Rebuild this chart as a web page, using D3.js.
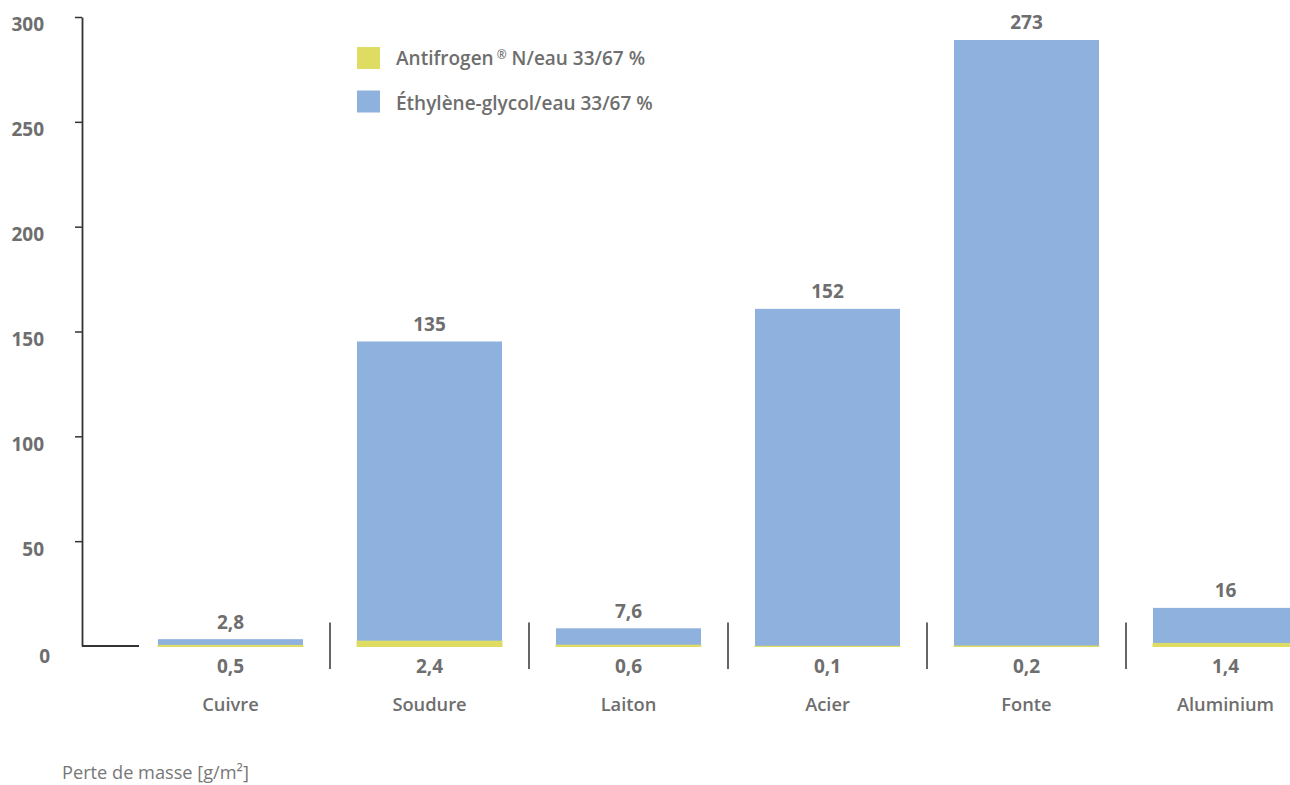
<!DOCTYPE html>
<html><head><meta charset="utf-8">
<script src="https://cdn.jsdelivr.net/npm/d3@7"></script>
<style>body{margin:0;background:#fff}svg{display:block}</style>
</head><body><svg id="c" width="1290" height="785"></svg>
<script>
// ---- data ----
const categories = ["Cuivre", "Soudure", "Laiton", "Acier", "Fonte", "Aluminium"];
const antifrogenValues = [0.5, 2.4, 0.6, 0.1, 0.2, 1.4];
const glycolValues = [2.8, 135, 7.6, 152, 273, 16];
const seriesNames = ["Antifrogen", "Éthylène-glycol/eau 33/67 %"];
const antifrogenSuffix = " N/eau 33/67 %";
const yTickValues = [0, 50, 100, 150, 200, 250, 300];
const axisTitle = "Perte de masse [g/m²]";

// ---- style ----
const textColor = "#6e6e6e";
const lineColor = "#333";
const yellow = "#dfdc63";
const blue = "#8fb1de";
const font = "'Open Sans', sans-serif";

const svg = d3.select("#c");

const x = d3.scaleBand().domain(categories).range([131, 1325])
  .paddingInner(0.2714).paddingOuter(0.1357);
// axis scale as printed on the reference
const yAxisScale = d3.scaleLinear().domain([0, 300]).range([646, 17]);
// bars in the reference are drawn on a slightly taller scale than the printed axis
const yBar = d3.scaleLinear().domain([0, 300]).range([646.5, -19.5]);

const fmt = v => String(v).replace(".", ",");

// y axis
const axisG = svg.append("g").attr("transform", "translate(82,0)")
  .call(d3.axisLeft(yAxisScale).tickValues(yTickValues).tickSize(7).tickSizeOuter(0).tickPadding(31));
axisG.select(".domain").attr("stroke", lineColor).attr("stroke-width", 1.8);
axisG.selectAll(".tick line").attr("stroke", lineColor).attr("stroke-width", 1.5);
axisG.selectAll(".tick text").attr("fill", textColor).attr("font-family", font)
  .attr("font-weight", 700).attr("font-size", 19).attr("dy", "0.73em");
axisG.selectAll(".tick").filter(d => d === 0).each(function () {
  d3.select(this).select("line").remove();
  d3.select(this).select("text").attr("x", -35 + 3).attr("dy", "0.88em");
});

// baseline stub
svg.append("line").attr("x1", 82).attr("x2", x.range()[0] + 8)
  .attr("y1", yAxisScale(0)).attr("y2", yAxisScale(0))
  .attr("stroke", lineColor).attr("stroke-width", 1.8);

// separators between categories
const step = x.step();
categories.slice(1).forEach(c => {
  const sx = x(c) - step * x.paddingInner() / 2;
  svg.append("line").attr("x1", sx).attr("x2", sx).attr("y1", 622.5).attr("y2", 669)
    .attr("stroke", lineColor).attr("stroke-width", 1.5);
});

// bars (stacked: antifrogen at bottom, glycol on top)
const data = categories.map((c, i) => ({ c, a: antifrogenValues[i], g: glycolValues[i] }));
const bars = svg.append("g");
bars.selectAll("rect.g").data(data).join("rect").attr("class", "g")
  .attr("x", d => x(d.c)).attr("width", x.bandwidth())
  .attr("y", d => yBar(d.a + d.g)).attr("height", d => yBar(d.a) - yBar(d.a + d.g))
  .attr("fill", blue);
bars.selectAll("rect.a").data(data).join("rect").attr("class", "a")
  .attr("x", d => x(d.c)).attr("width", x.bandwidth())
  .attr("y", d => yBar(d.a)).attr("height", d => yBar(0) - yBar(d.a))
  .attr("fill", yellow).attr("stroke", yellow).attr("stroke-width", 1);

// value labels
const lab = svg.append("g").attr("font-family", font).attr("font-weight", 700)
  .attr("font-size", 19).attr("fill", textColor).attr("text-anchor", "middle");
lab.selectAll("text.top").data(data).join("text").attr("class", "top")
  .attr("x", d => x(d.c) + x.bandwidth() / 2).attr("y", d => yBar(d.a + d.g) - 10.5)
  .text(d => fmt(d.g));
lab.selectAll("text.bot").data(data).join("text").attr("class", "bot")
  .attr("x", d => x(d.c) + x.bandwidth() / 2).attr("y", 673)
  .text(d => fmt(d.a));
lab.selectAll("text.cat").data(data).join("text").attr("class", "cat")
  .attr("x", d => x(d.c) + x.bandwidth() / 2).attr("y", 710.5)
  .attr("font-size", 18.3).attr("font-weight", 600)
  .text(d => d.c);

// legend
const leg = svg.append("g").attr("font-family", font).attr("font-weight", 600)
  .attr("font-size", 19).attr("fill", textColor);
leg.append("rect").attr("x", 357).attr("y", 47).attr("width", 23).attr("height", 22).attr("fill", yellow);
leg.append("rect").attr("x", 357).attr("y", 90.5).attr("width", 23).attr("height", 22).attr("fill", blue);
const t1 = leg.append("text").attr("x", 396).attr("y", 65);
t1.append("tspan").text(seriesNames[0]);
t1.append("tspan").attr("font-size", 12).attr("dx", 3).attr("dy", -6).text("®");
t1.append("tspan").attr("dy", 6).text(antifrogenSuffix);
leg.append("text").attr("x", 396).attr("y", 110).text(seriesNames[1]);

// footnote
svg.append("text").attr("x", 62).attr("y", 779).attr("font-family", font)
  .attr("font-size", 18.2).attr("fill", "#777").text(axisTitle);
</script></body></html>
